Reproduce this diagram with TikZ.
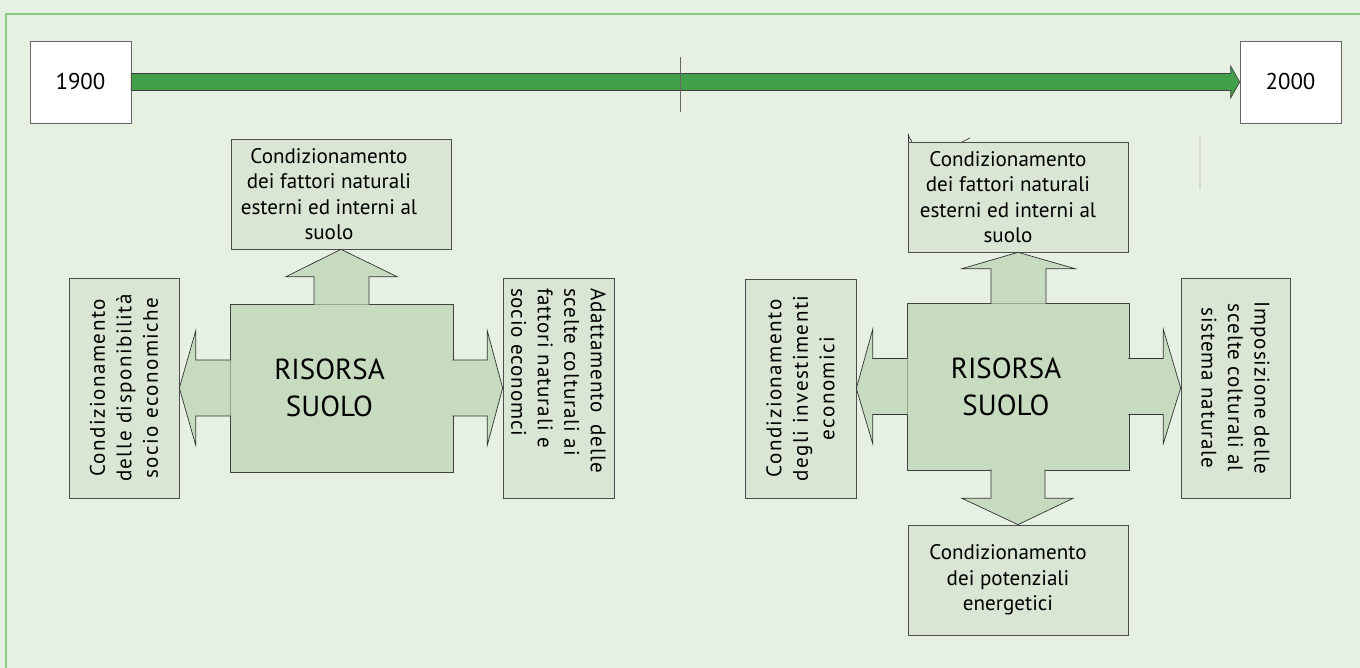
\documentclass[tikz,border=0pt]{standalone}
\usepackage{fontspec}
\setmainfont{PT Sans}
\usetikzlibrary{calc}

\definecolor{pagegreen}{HTML}{E6F1E4}
\definecolor{framegreen}{HTML}{8DC680}
\definecolor{boxgreen}{HTML}{D8E6D3}
\definecolor{coregreen}{HTML}{C6DBBF}
\definecolor{bargreen}{HTML}{43A04A}

\tikzset{
	sidebox/.style={draw=black!70, fill=boxgreen, inner sep=0pt},
	boxtext/.style={align=center, inner sep=0pt, font=\fontsize{12}{14.4}\selectfont},
	corebox/.style={draw=black!75, fill=coregreen, inner sep=0pt},
	coretext/.style={align=center, inner sep=0pt, font=\fontsize{16.5}{21}\selectfont},
	blockarrow/.style={draw=black!80, fill=coregreen, line join=miter},
	yearbox/.style={draw=black!60, fill=white, minimum width=2.02cm, minimum height=1.64cm, font=\fontsize{13}{15}\selectfont}
}

\newcommand{\uptext}[3]{\rotatebox{90}{\parbox{#1}{\fontsize{12}{15.1}\selectfont\centering\addfontfeature{LetterSpace=#2}#3}}}
\newcommand{\downtext}[3]{\rotatebox{-90}{\parbox{#1}{\fontsize{12}{15.1}\selectfont\raggedright\addfontfeature{LetterSpace=#2}#3}}}

\begin{document}
\begin{tikzpicture}[x=0.02cm, y=-0.02cm]
	\fill[pagegreen] (0,0) rectangle (1360,668);
	\useasboundingbox (0,0) rectangle (1360,668);
	\draw[framegreen, line width=0.8pt] (6,668) -- (6,14) -- (1360,14);

	% time line
	\node[yearbox] (y1900) at (80.5,82) {1900};
	\node[yearbox] (y2000) at (1290.5,82) {2000};
	\filldraw[draw=black!75, fill=bargreen] ($(y1900.east)+(0,-8.5)$) -- ($(y2000.west)+(-9,-8.5)$) -- ++(0,-7.5) -- (y2000.west) -- ($(y2000.west)+(-9,16)$) -- ++(0,-7.5) -- ($(y1900.east)+(0,8.5)$) -- cycle;
	\draw[black!60] (680,57) -- (680,112);

	% 1900
	\node[corebox, minimum width=4.46cm, minimum height=3.36cm] (coreL) at (341.5,388) {};
	\node[sidebox, minimum width=4.4cm, minimum height=2.2cm] (topL) at (341,194) {};
	\node[boxtext, xshift=-0.24cm] (topLtext) at (topL) {Condizionamento\\dei fattori naturali\\esterni ed interni al\\suolo};
	\node[sidebox, minimum width=2.2cm, minimum height=4.4cm] (leftL) at (124,388) {\uptext{4cm}{7}{Condizionamento\\delle disponibilità\\socio economiche}};
	\node[sidebox, minimum width=2.22cm, minimum height=4.4cm] (rightL) at (558.5,388) {\downtext{4cm}{4}{\makebox[3.7cm][s]{Adattamento delle}\\scelte colturali ai\\fattori naturali e\\socio economci}};
	\filldraw[blockarrow] ($(coreL.north)+(-27.5,1)$) -- ++(0,-28) -- ++(-28,0) -- (topL.south) -- ($(coreL.north)+(55.5,-27)$) -- ++(-28,0) -- ++(0,28);
	\filldraw[blockarrow] ($(coreL.west)+(1,-28)$) -- ++(-35,0) -- ++(0,-29) -- (leftL.east) -- ($(coreL.west)+(-34,57)$) -- ++(0,-29) -- ++(35,0);
	\filldraw[blockarrow] ($(coreL.east)+(-1,-28)$) -- ++(35,0) -- ++(0,-29) -- (rightL.west) -- ($(coreL.east)+(34,57)$) -- ++(0,-29) -- ++(-35,0);
	\node[coretext, xshift=-0.24cm] (coreLtext) at (coreL) {RISORSA\\SUOLO};

	% 2000
	\node[corebox, minimum width=4.44cm, minimum height=3.34cm] (coreR) at (1018,386.5) {};
	\node[sidebox, minimum width=4.4cm, minimum height=2.2cm] (topR) at (1018,197) {};
	\node[boxtext, xshift=-0.2cm] (topRtext) at (topR) {Condizionamento\\dei fattori naturali\\esterni ed interni al\\suolo};
	\node[sidebox, minimum width=4.4cm, minimum height=2.2cm] (bottomR) at (1018,580) {};
	\node[boxtext, xshift=-0.2cm] (bottomRtext) at (bottomR) {Condizionamento\\dei potenziali\\energetici};
	\node[sidebox, minimum width=2.22cm, minimum height=4.38cm] (leftR) at (800.5,388.5) {\uptext{4cm}{7}{Condizionamento\\degli investimenti\\economici}};
	\node[sidebox, minimum width=2.18cm, minimum height=4.4cm] (rightR) at (1235.5,388) {\rotatebox{-90}{\parbox{4cm}{\fontsize{12}{15.1}\selectfont\centering\addfontfeature{LetterSpace=4}Imposizione delle\\scelte colturali al\\sistema naturale}}};
	\filldraw[blockarrow] ($(coreR.north)+(-27,1)$) -- ++(0,-35) -- ++(-29,0) -- (topR.south) -- ($(coreR.north)+(57,-34)$) -- ++(-29,0) -- ++(0,35);
	\filldraw[blockarrow] ($(coreR.south)+(-27,-1)$) -- ++(0,29) -- ++(-29,0) -- (bottomR.north) -- ($(coreR.south)+(55,28)$) -- ++(-28,0) -- ++(0,-29);
	\filldraw[blockarrow] ($(coreR.west)+(1,-28)$) -- ++(-35,0) -- ++(0,-29) -- (leftR.east) -- ($(coreR.west)+(-34,57)$) -- ++(0,-29) -- ++(35,0);
	\filldraw[blockarrow] ($(coreR.east)+(-1,-28)$) -- ++(35,0) -- ++(0,-29) -- (rightR.west) -- ($(coreR.east)+(34,57)$) -- ++(0,-29) -- ++(-35,0);
	\node[coretext, xshift=-0.24cm] (coreRtext) at (coreR) {RISORSA\\SUOLO};

	\draw[black!80] (908,134) -- (908,142);
	\draw[black!80] (908,135) -- (912,142);
	\draw[black!70] (962,142) -- (970,138);
	\draw[black!15, line width=0.8pt] (1200,135) -- (1200,190);
\end{tikzpicture}
\end{document}
